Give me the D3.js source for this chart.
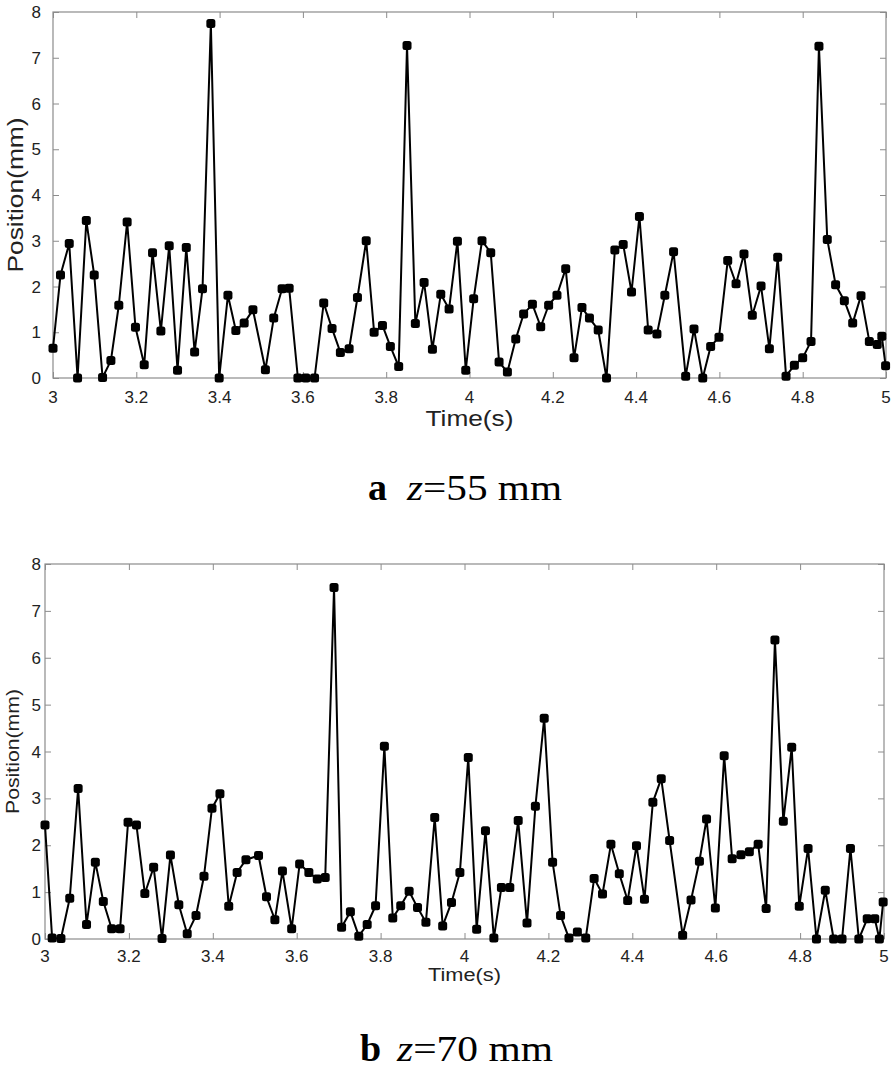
<!DOCTYPE html>
<html>
<head>
<meta charset="utf-8">
<script src="https://cdn.jsdelivr.net/npm/d3@7"></script>
<style>
  html, body { margin: 0; padding: 0; background: #fff; }
  svg { display: block; }
  .tick-label { font-family: "Liberation Sans", Arial, sans-serif; fill: #222; }
  .caption { font-family: "Liberation Serif", "Times New Roman", serif; fill: #000; }
</style>
</head>
<body>
<svg id="chart" width="896" height="1074"></svg>
<script>
// time stamps (s) and positions (mm)
const timeA = [3.000,3.018,3.039,3.059,3.080,3.099,3.119,3.139,3.158,3.178,3.198,3.219,3.239,3.259,3.279,3.299,3.320,3.340,3.359,3.379,
  3.399,3.420,3.439,3.459,3.480,3.510,3.530,3.550,3.567,3.588,3.607,3.628,3.650,3.670,3.690,3.711,3.731,3.752,3.771,3.791,
  3.810,3.830,3.850,3.870,3.891,3.911,3.931,3.951,3.971,3.991,4.010,4.030,4.051,4.071,4.091,4.111,4.130,4.151,4.171,4.190,
  4.210,4.231,4.251,4.270,4.288,4.309,4.329,4.349,4.369,4.389,4.408,4.429,4.450,4.469,4.490,4.519,4.539,4.560,4.579,4.599,
  4.620,4.640,4.659,4.679,4.700,4.720,4.740,4.760,4.780,4.800,4.820,4.839,4.859,4.879,4.900,4.920,4.940,4.960,4.979,4.990,4.999];
const posA = [0.65,2.25,2.94,0,3.44,2.25,0.01,0.38,1.59,3.41,1.11,0.29,2.74,1.03,2.89,0.17,2.85,0.57,1.95,7.75,
  0,1.81,1.04,1.20,1.49,0.18,1.31,1.95,1.96,0,0,0,1.64,1.08,0.56,0.64,1.76,3.00,1.00,1.15,
  0.69,0.25,7.27,1.19,2.09,0.63,1.83,1.51,2.99,0.17,1.73,3.00,2.74,0.35,0.13,0.85,1.40,1.61,1.12,1.59,
  1.81,2.39,0.44,1.54,1.31,1.05,0,2.80,2.92,1.88,3.53,1.05,0.96,1.81,2.76,0.04,1.07,0,0.69,0.89,
  2.57,2.06,2.71,1.37,2.01,0.64,2.64,0.04,0.28,0.44,0.80,7.25,3.03,2.04,1.69,1.20,1.80,0.80,0.73,0.91,0.27];

const timeB = [3.000,3.017,3.038,3.059,3.079,3.099,3.120,3.139,3.159,3.179,3.198,3.218,3.238,3.259,3.279,3.299,3.319,3.339,3.360,3.379,
  3.398,3.417,3.438,3.458,3.479,3.509,3.528,3.548,3.566,3.588,3.607,3.629,3.649,3.668,3.689,3.707,3.728,3.748,3.768,3.788,
  3.809,3.829,3.848,3.868,3.888,3.908,3.929,3.948,3.969,3.989,4.009,4.029,4.050,4.070,4.088,4.108,4.128,4.149,4.169,4.190,
  4.210,4.229,4.249,4.269,4.289,4.309,4.329,4.349,4.369,4.389,4.410,4.429,4.449,4.469,4.489,4.520,4.540,4.560,4.577,4.598,
  4.619,4.638,4.659,4.679,4.700,4.719,4.740,4.760,4.780,4.798,4.819,4.839,4.860,4.880,4.900,4.920,4.940,4.960,4.978,4.989,4.998];
const posB = [2.43,0.02,0.01,0.87,3.21,0.31,1.64,0.80,0.22,0.22,2.49,2.43,0.97,1.53,0.01,1.79,0.73,0.11,0.50,1.34,
  2.79,3.10,0.70,1.42,1.69,1.78,0.90,0.41,1.45,0.22,1.60,1.42,1.28,1.31,7.50,0.25,0.58,0.06,0.31,0.71,
  4.11,0.45,0.71,1.02,0.67,0.36,2.59,0.28,0.78,1.42,3.87,0.21,2.31,0.02,1.10,1.10,2.53,0.34,2.83,4.71,
  1.64,0.50,0.02,0.15,0.02,1.29,0.96,2.02,1.39,0.82,1.99,0.85,2.92,3.42,2.10,0.08,0.83,1.66,2.56,0.66,
  3.91,1.71,1.80,1.86,2.02,0.65,6.38,2.51,4.09,0.70,1.93,0,1.04,0,0,1.93,0,0.43,0.43,0,0.79];

const xTicks = [3, 3.2, 3.4, 3.6, 3.8, 4, 4.2, 4.4, 4.6, 4.8, 5];
const yTicks = [0, 1, 2, 3, 4, 5, 6, 7, 8];
const xLabel = 'Time(s)';
const yLabel = 'Position(mm)';
const captions = [
  { letter: 'a', value: '=55 mm' },
  { letter: 'b', value: '=70 mm' }
];

const svg = d3.select('#chart');

// layout of the two panels (pixels)
const panels = [
  { time: timeA, pos: posA, caption: captions[0],
    left: 53, right: 886, top: 12, bottom: 378,
    tickBase: 403, xLabelBase: 426, xLabelLen: 88, xLabelSize: 22,
    yLabelX: 23, yLabelLen: 155, yLabelSize: 22,
    capY: 500, capLetterX: 368, capTextX: 407, capTextLen: 155 },
  { time: timeB, pos: posB, caption: captions[1],
    left: 45, right: 884, top: 564, bottom: 939,
    tickBase: 962, xLabelBase: 981, xLabelLen: 73, xLabelSize: 18,
    yLabelX: 19, yLabelLen: 125, yLabelSize: 18,
    capY: 1061, capLetterX: 360, capTextX: 397, capTextLen: 156 }
];

panels.forEach(p => {
  const x = d3.scaleLinear().domain([3, 5]).range([p.left, p.right]);
  const y = d3.scaleLinear().domain([0, 8]).range([p.bottom, p.top]);
  const g = svg.append('g');
  const tickLen = 6;
  const frameColor = '#8c8c8c';

  // matlab style ticks, inside on all four sides
  const sides = [
    [d3.axisBottom(x).tickValues(xTicks), `translate(0,${p.bottom})`],
    [d3.axisTop(x).tickValues(xTicks), `translate(0,${p.top})`],
    [d3.axisLeft(y).tickValues(yTicks), `translate(${p.left},0)`],
    [d3.axisRight(y).tickValues(yTicks), `translate(${p.right},0)`]
  ];
  sides.forEach(([axis, tr]) => {
    g.append('g')
      .attr('transform', tr)
      .call(axis.tickSize(-tickLen).tickFormat(''))
      .call(a => a.select('.domain').remove())
      .selectAll('line').attr('stroke', frameColor);
  });

  g.append('rect')
    .attr('x', p.left).attr('y', p.top)
    .attr('width', p.right - p.left).attr('height', p.bottom - p.top)
    .attr('fill', 'none').attr('stroke', frameColor).attr('stroke-width', 1.2);

  // tick labels
  g.selectAll('.xt').data(xTicks).join('text')
    .attr('class', 'tick-label')
    .attr('x', d => x(d)).attr('y', p.tickBase)
    .attr('text-anchor', 'middle').style('font-size', '17px')
    .text(d => d3.format('~g')(d));
  g.selectAll('.yt').data(yTicks).join('text')
    .attr('class', 'tick-label')
    .attr('x', 41).attr('y', d => y(d))
    .attr('dy', '0.36em')
    .attr('text-anchor', 'end').style('font-size', '17px')
    .text(d => d);

  // axis titles
  g.append('text')
    .attr('class', 'tick-label')
    .attr('x', (p.left + p.right) / 2).attr('y', p.xLabelBase)
    .attr('text-anchor', 'middle')
    .style('font-size', p.xLabelSize + 'px')
    .attr('textLength', p.xLabelLen).attr('lengthAdjust', 'spacingAndGlyphs')
    .text(xLabel);
  g.append('text')
    .attr('class', 'tick-label')
    .attr('transform', `translate(${p.yLabelX},${(p.top + p.bottom) / 2}) rotate(-90)`)
    .attr('text-anchor', 'middle')
    .style('font-size', p.yLabelSize + 'px')
    .attr('textLength', p.yLabelLen).attr('lengthAdjust', 'spacingAndGlyphs')
    .text(yLabel);

  // series
  const data = p.time.map((t, i) => ({ t: t, v: p.pos[i] }));
  const line = d3.line().x(d => x(d.t)).y(d => y(d.v));
  g.append('path')
    .datum(data)
    .attr('d', line)
    .attr('fill', 'none')
    .attr('stroke', '#000')
    .attr('stroke-width', 2)
    .attr('stroke-linejoin', 'round');
  const ms = 9;
  g.append('g').selectAll('rect').data(data).join('rect')
    .attr('x', d => x(d.t) - ms / 2)
    .attr('y', d => y(d.v) - ms / 2)
    .attr('width', ms).attr('height', ms)
    .attr('rx', 2.5)
    .attr('fill', '#000');

  // panel caption
  g.append('text')
    .attr('class', 'caption')
    .attr('x', p.capLetterX).attr('y', p.capY)
    .style('font-size', '38px').style('font-weight', 'bold')
    .text(p.caption.letter);
  const cap = g.append('text')
    .attr('class', 'caption')
    .attr('x', p.capTextX).attr('y', p.capY)
    .style('font-size', '36px')
    .attr('textLength', p.capTextLen).attr('lengthAdjust', 'spacingAndGlyphs');
  cap.append('tspan').style('font-style', 'italic').text('z');
  cap.append('tspan').text(p.caption.value);
});
</script>
</body>
</html>
